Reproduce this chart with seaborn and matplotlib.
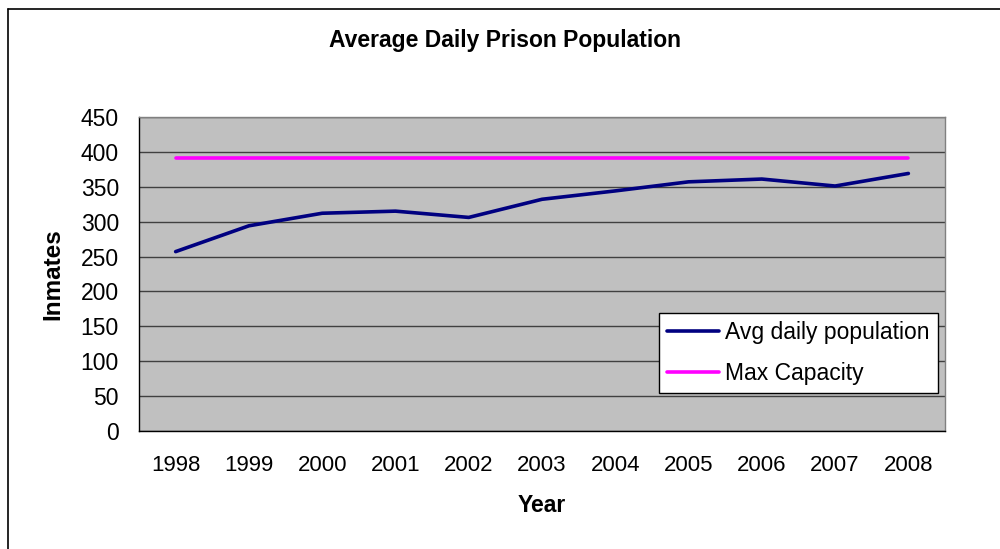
import seaborn as sns
import matplotlib.pyplot as plt
import pandas as pd
import numpy as np
from matplotlib.lines import Line2D

# Data
years = ["1998", "1999", "2000", "2001", "2002", "2003", "2004", "2005", "2006", "2007", "2008"]
avg_daily = [257, 294, 312, 315, 306, 332, 344, 357, 361, 351, 369]
max_capacity = [391, 391, 391, 391, 391, 391, 391, 391, 391, 391, 391]

sns.set_style("white")
plt.rcParams["font.family"] = ["Liberation Sans", "DejaVu Sans"]
plt.rcParams.update({"text.color": "black", "axes.labelcolor": "black",
                     "xtick.color": "black", "ytick.color": "black"})

df = pd.DataFrame({
    "Year": years * 2,
    "Inmates": avg_daily + max_capacity,
    "series": ["Avg daily population"] * len(years) + ["Max Capacity"] * len(years),
})

fig = plt.figure(figsize=(10, 5.49), dpi=100)
ax = fig.add_axes([0.139, 0.215, 0.806, 0.572])
ax.set_facecolor("#C0C0C0")

# 1. Lines
sns.lineplot(data=df, x="Year", y="Inmates", hue="series",
             palette=["#000080", "#FF00FF"], linewidth=2.6, ax=ax, sort=False)

# 2. Axes styling
ax.set_ylim(0, 450)
ax.set_yticks(np.arange(0, 451, 50))
ax.set_xlim(-0.5, len(years) - 0.5)
ax.set_xticks(range(len(years)))
ax.set_xticklabels(years)
ax.set_xticks(np.arange(-0.5, len(years), 1), minor=True)
ax.tick_params(axis="x", which="major", length=0, labelsize=16, pad=17)
ax.tick_params(axis="x", which="minor", length=5, direction="out", width=1, color="black")
ax.tick_params(axis="y", length=6.5, direction="out", width=1, color="black", labelsize=16.5, pad=8)
ax.yaxis.grid(True, color="#404040", linewidth=1)
ax.set_axisbelow(True)
for side in ["left", "bottom"]:
    ax.spines[side].set_color("black")
    ax.spines[side].set_linewidth(1)
for side in ["top", "right"]:
    ax.spines[side].set_color("#808080")
    ax.spines[side].set_linewidth(1)

ax.set_xlabel("Year", fontsize=16.5, fontweight="bold", labelpad=13)
ax.set_ylabel("Inmates", fontsize=17.5, fontweight="bold", labelpad=12)
fig.text(0.505, 1 - 47 / 549, "Average Daily Prison Population", fontsize=16.5,
         fontweight="bold", ha="center", va="baseline")

# 3. Legend
leg = ax.legend(loc="lower right", bbox_to_anchor=(0.991, 0.121), borderaxespad=0,
                fontsize=16.5, frameon=True, fancybox=False, framealpha=1, edgecolor="black",
                borderpad=0.35, handlelength=2.3, handletextpad=0.25, labelspacing=0.8)
leg.get_frame().set_linewidth(1)
leg.get_frame().set_facecolor("white")

# 4. Outer chart border (left and top edges visible)
fig.add_artist(Line2D([0.008, 0.008], [0, 1 - 9 / 549], transform=fig.transFigure,
                      color="black", linewidth=1.2))
fig.add_artist(Line2D([0.008, 1], [1 - 9 / 549, 1 - 9 / 549], transform=fig.transFigure,
                      color="black", linewidth=1.2))

fig.savefig("out.png", dpi=100)
